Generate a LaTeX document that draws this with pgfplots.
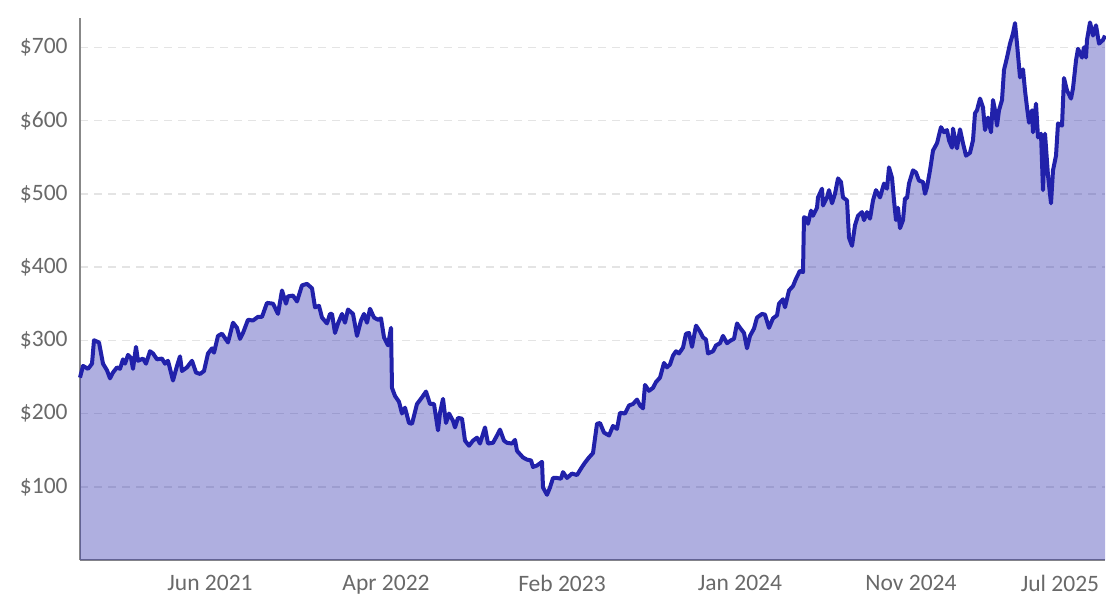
\documentclass[border=0pt]{standalone}
\usepackage{pgfplots}
\pgfplotsset{compat=1.18}
\usepackage{pgfplotstable}
\usepackage{fontspec}
\setmainfont{Carlito}
\definecolor{linec}{RGB}{33,33,170}
\definecolor{axisgray}{RGB}{136,136,136}
\definecolor{ticktext}{RGB}{105,105,105}
\definecolor{gridc}{RGB}{228,228,228}

\pgfplotstableread{
x y
80 249
83 265
88 261
92 268
94 300
99 297
103 268
107 259
110 248
113 256
117 263
120 261
123 274
125 268
128 280
131 276
133 261
136 291
138 272
143 275
146 268
150 285
153 282
157 274
162 275
165 268
168 272
173 245
177 265
180 278
182 258
187 263
192 272
196 256
200 254
204 258
208 282
212 289
214 283
218 306
222 309
228 297
233 324
237 317
240 302
243 310
248 328
253 327
258 332
262 332
267 351
273 350
278 336
282 368
286 350
288 360
293 361
297 353
302 375
307 377
312 371
315 345
319 347
322 331
327 323
330 336
332 336
335 310
338 323
342 336
345 324
348 342
353 336
357 306
361 327
364 336
367 324
370 343
374 331
378 328
381 330
384 304
388 293
391 317
392 235
395 224
399 216
402 200
405 208
409 187
412 186
417 213
422 222
426 230
430 213
434 213
438 177
440 201
443 220
446 187
449 200
453 190
455 181
458 194
462 193
465 163
469 156
473 163
477 167
480 159
485 181
488 159
493 160
497 170
500 178
504 163
507 160
512 159
515 164
517 149
523 140
527 137
531 136
533 127
537 129
542 134
543 99
547 89
550 99
553 112
557 112
561 111
563 120
567 112
572 118
577 116
582 127
585 133
589 140
593 146
597 186
600 187
604 174
609 170
613 183
617 179
620 201
625 200
629 211
633 213
637 219
640 211
643 207
645 239
649 231
653 235
656 243
660 249
664 269
667 263
670 267
673 279
676 285
679 282
683 290
686 309
689 310
692 291
696 320
700 312
703 304
706 301
708 282
713 285
716 293
720 296
723 306
727 296
731 300
734 302
737 323
740 317
744 310
747 289
750 306
754 316
757 331
762 336
765 335
769 317
773 330
777 334
779 350
783 356
785 345
789 368
793 374
796 384
800 395
803 393
804 468
807 466
808 459
811 477
813 470
817 481
818 495
822 507
823 484
827 495
829 505
832 487
835 500
838 521
841 516
843 495
847 491
849 440
852 429
855 457
858 470
862 475
864 464
867 475
870 466
873 491
876 505
880 495
884 514
887 507
889 536
892 522
894 491
896 464
898 481
900 453
903 464
905 494
907 494
909 514
913 532
916 529
919 518
923 516
925 500
927 509
930 532
933 559
937 569
941 591
944 584
947 587
949 573
952 563
953 589
957 562
960 588
963 569
966 552
970 556
973 573
975 610
977 614
980 630
983 618
985 587
988 604
991 584
993 628
995 614
997 593
999 614
1002 628
1004 669
1007 686
1010 705
1013 719
1015 733
1017 705
1020 659
1023 670
1025 641
1027 618
1029 597
1032 614
1033 584
1036 623
1038 577
1041 582
1043 505
1045 582
1048 525
1051 487
1053 532
1056 552
1058 596
1062 593
1064 658
1067 641
1071 630
1073 644
1076 682
1078 698
1082 686
1084 700
1086 686
1087 710
1090 734
1093 716
1096 730
1099 705
1103 710
1105 716
}\pricedata

\begin{document}
\begin{tikzpicture}
\begin{axis}[
  at={(0,0)}, anchor=south west,
  scale only axis, width=512.5bp, height=271bp,
  xmin=80, xmax=1105, ymin=0, ymax=740,
  axis x line=bottom, axis y line=left,
  axis line style={axisgray, line width=1bp, -},
  xtick={210,386,562,740,911,1060},
  xticklabels={Jun 2021, Apr 2022, Feb 2023, Jan 2024, Nov 2024, Jul 2025},
  ytick={100,200,300,400,500,600,700},
  yticklabel={\$\pgfmathprintnumber{\tick}},
  /pgf/number format/assume math mode=true,
  major tick length=0pt,
  ymajorgrids,
  grid style={gridc, line width=0.75bp, dash pattern=on 4bp off 3bp},
  tick label style={font=\fontsize{11.8}{14}\selectfont, text=ticktext},
  yticklabel style={anchor=east, inner sep=0pt, xshift=-6bp},
  xticklabel style={anchor=north, inner sep=0pt, yshift=-7.5bp},
  clip=false,
]
\addplot[draw=none, fill=linec, fill opacity=0.36] table {\pricedata} \closedcycle;
\addplot[linec, line width=2bp, line join=round, mark=none] table {\pricedata};
\end{axis}
\pgfresetboundingbox
\path[use as bounding box] (-40bp,-20bp) rectangle (513bp,280bp);
\end{tikzpicture}
\end{document}
